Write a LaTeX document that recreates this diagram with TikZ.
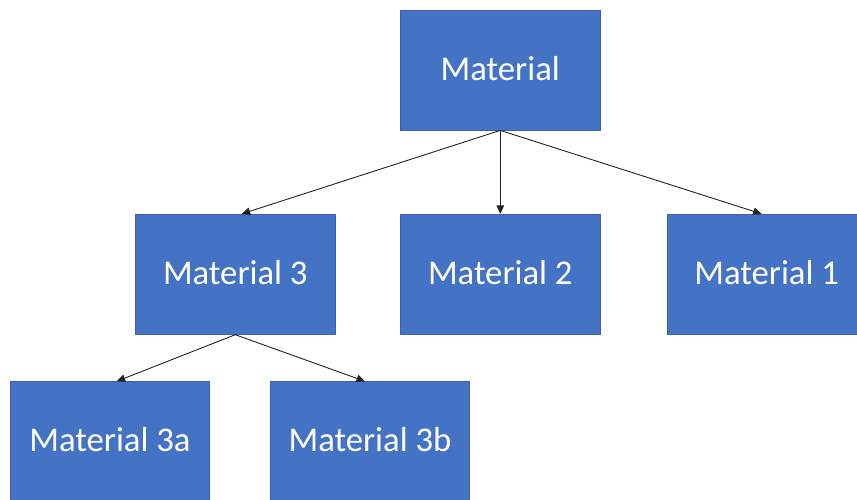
\documentclass[tikz,border=0pt]{standalone}
\usepackage{fontspec}
\setmainfont{Carlito}
\usetikzlibrary{arrows.meta}
\definecolor{boxfill}{HTML}{4472C4}
\definecolor{boxline}{HTML}{3A62AC}
\definecolor{arr}{HTML}{222222}
\newcommand{\uptext}[1]{\raisebox{3.5pt}{#1}}
\begin{document}
\begin{tikzpicture}[x=1pt,y=-1pt,
  box/.style={draw=boxline, line width=0.8pt, fill=boxfill, text=white,
    minimum width=199.5pt, minimum height=120pt, inner sep=0pt,
    font=\fontsize{34.7}{40}\selectfont},
  conn/.style={draw=arr, line width=0.9pt, -{Triangle[length=8.5pt,width=7.5pt]}}]
\useasboundingbox (0,0) rectangle (857,500);
\clip (0,0) rectangle (857,500);
\node[box] (top) at (500.3,70) {\uptext{Material}};
\node[box] (m3) at (235.3,274.3) {\uptext{Material 3}};
\node[box] (m2) at (500.3,274.3) {\uptext{Material 2}};
\node[box] (m1) at (766.7,274.3) {\uptext{Material 1}};
\node[box] (m3a) at (110,441.7) {\uptext{Material 3a}};
\node[box] (m3b) at (370,441.7) {\uptext{Material 3b}};
\draw[conn] (top.south) -- ([xshift=6.4pt]m3.north);
\draw[conn] (top.south) -- (m2.north);
\draw[conn] (top.south) -- ([xshift=-5pt]m1.north);
\draw[conn] (m3.south) -- ([xshift=6.7pt]m3a.north);
\draw[conn] (m3.south) -- ([xshift=-5pt]m3b.north);
\end{tikzpicture}
\end{document}
